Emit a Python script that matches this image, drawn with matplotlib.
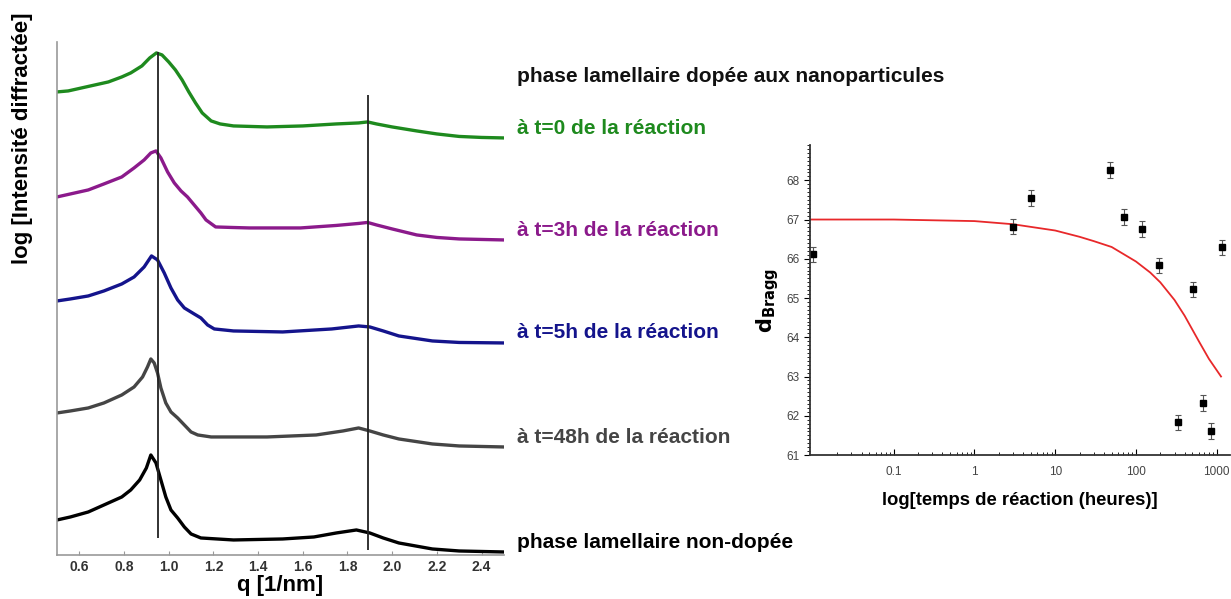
import matplotlib
matplotlib.use("Agg")
import matplotlib.pyplot as plt

plt.rcParams['font.family'] = ['Liberation Sans', 'DejaVu Sans']

# --- left panel: SAXS curves (log intensity, arbitrary offsets) ---
q_green = [0.50, 0.55, 0.61, 0.67, 0.73, 0.79, 0.83, 0.88, 0.915, 0.945, 0.97,
           1.00, 1.03, 1.06, 1.09, 1.12, 1.15, 1.19, 1.23, 1.29, 1.44, 1.60,
           1.75, 1.85, 1.89, 1.93, 2.00, 2.11, 2.20, 2.30, 2.40, 2.50]
i_green = [4.63, 4.64, 4.67, 4.70, 4.73, 4.78, 4.82, 4.89, 4.97, 5.02, 5.00,
           4.93, 4.85, 4.75, 4.63, 4.52, 4.42, 4.34, 4.31, 4.29, 4.28, 4.29,
           4.31, 4.32, 4.33, 4.31, 4.28, 4.24, 4.21, 4.185, 4.175, 4.17]

q_purple = [0.50, 0.56, 0.64, 0.71, 0.79, 0.845, 0.89, 0.92, 0.943, 0.965, 0.995,
            1.025, 1.055, 1.084, 1.114, 1.144, 1.167, 1.21, 1.28, 1.36, 1.59,
            1.75, 1.85, 1.89, 1.93, 2.00, 2.11, 2.20, 2.30, 2.50]
i_purple = [3.58, 3.61, 3.65, 3.71, 3.78, 3.87, 3.95, 4.02, 4.04, 3.97, 3.83,
            3.72, 3.64, 3.58, 3.50, 3.42, 3.35, 3.28, 3.275, 3.27, 3.27,
            3.295, 3.315, 3.325, 3.30, 3.26, 3.20, 3.175, 3.16, 3.15]

q_blue = [0.50, 0.56, 0.64, 0.71, 0.79, 0.845, 0.89, 0.923, 0.95, 0.98, 1.01,
          1.04, 1.07, 1.114, 1.144, 1.174, 1.204, 1.29, 1.51, 1.73, 1.85,
          1.90, 1.96, 2.03, 2.18, 2.30, 2.50]
i_blue = [2.54, 2.56, 2.59, 2.64, 2.71, 2.78, 2.88, 2.99, 2.95, 2.82, 2.67,
          2.55, 2.47, 2.41, 2.37, 2.30, 2.26, 2.24, 2.23, 2.26, 2.29,
          2.28, 2.24, 2.19, 2.14, 2.125, 2.12]

q_gray = [0.50, 0.56, 0.64, 0.71, 0.79, 0.845, 0.883, 0.905, 0.92, 0.935, 0.95,
          0.965, 0.987, 1.01, 1.04, 1.07, 1.10, 1.13, 1.19, 1.29, 1.44, 1.66,
          1.78, 1.85, 1.90, 1.96, 2.03, 2.18, 2.30, 2.50]
i_gray = [1.42, 1.44, 1.47, 1.52, 1.60, 1.68, 1.78, 1.88, 1.96, 1.92, 1.82,
          1.67, 1.52, 1.43, 1.37, 1.30, 1.23, 1.20, 1.18, 1.18, 1.18, 1.20,
          1.24, 1.27, 1.24, 1.20, 1.16, 1.11, 1.09, 1.08]

q_black = [0.50, 0.56, 0.64, 0.71, 0.79, 0.83, 0.87, 0.90, 0.92, 0.943, 0.965,
           0.987, 1.01, 1.04, 1.07, 1.10, 1.144, 1.29, 1.51, 1.65, 1.75, 1.84,
           1.90, 1.96, 2.03, 2.18, 2.30, 2.50]
i_black = [0.35, 0.38, 0.43, 0.50, 0.58, 0.65, 0.75, 0.87, 1.00, 0.92, 0.75,
           0.58, 0.45, 0.37, 0.28, 0.21, 0.17, 0.15, 0.16, 0.18, 0.22, 0.25,
           0.22, 0.17, 0.12, 0.06, 0.04, 0.03]

peak_q = [0.95, 1.89]
peak_lo = [0.17, 0.05]
peak_hi = [5.03, 4.60]

labels = ["à t=0 de la réaction", "à t=3h de la réaction", "à t=5h de la réaction",
          "à t=48h de la réaction", "phase lamellaire non-dopée"]
label_y = [4.26, 3.24, 2.22, 1.17, 0.12]
colors = ["#1e8a1e", "#8b1a8b", "#14148c", "#454545", "#000000"]

# --- right panel: Bragg spacing vs reaction time ---
t_hours = [0.01, 3, 5, 48, 72, 120, 192, 336, 504, 672, 840, 1176]
d_bragg = [66.11, 66.82, 67.54, 68.27, 67.07, 66.75, 65.83, 61.83, 65.22, 62.32, 61.61, 66.29]
d_err = [0.2] * len(t_hours)

fit_t = [0.0092, 0.1, 1, 3, 10, 20, 30, 50, 100, 150, 200, 300, 400, 600, 800, 1130]
fit_d = [67.00, 67.00, 66.96, 66.88, 66.72, 66.56, 66.45, 66.30, 65.93, 65.65,
         65.40, 64.95, 64.55, 63.90, 63.45, 63.00]

fig = plt.figure(figsize=(12.31, 5.99), dpi=100)

ax = fig.add_axes([0.0463, 0.0735, 0.363, 0.8565])
curves = [(q_green, i_green), (q_purple, i_purple), (q_blue, i_blue),
          (q_gray, i_gray), (q_black, i_black)]
for (q, inten), c in zip(curves, colors):
    ax.plot(q, inten, color=c, lw=2.4, solid_joinstyle='round')
ax.vlines(peak_q, peak_lo, peak_hi, color="#222222", lw=1.3)
ax.set_xlim(0.5, 2.5)
ax.set_ylim(0, 5.13)
ax.set_xticks([0.6, 0.8, 1.0, 1.2, 1.4, 1.6, 1.8, 2.0, 2.2, 2.4])
ax.set_yticks([])
ax.tick_params(axis='x', direction='in', length=3, color="#999999",
               labelsize=10, labelcolor="#333333")
for lab in ax.get_xticklabels():
    lab.set_fontweight('bold')
for s in ['top', 'right']:
    ax.spines[s].set_visible(False)
for s in ['left', 'bottom']:
    ax.spines[s].set_color("#999999")
    ax.spines[s].set_linewidth(1.2)
ax.set_xlabel("q [1/nm]", fontsize=16, fontweight='bold', labelpad=1)
ax.set_ylabel("log [Intensité diffractée]", fontsize=16, fontweight='bold')
ax.yaxis.set_label_coords(-0.054, 0.813)

ax.text(2.558, 4.78, "phase lamellaire dopée aux nanoparticules", fontsize=15,
        fontweight='bold', color="#111111", va='center', clip_on=False)
for txt, y, c in zip(labels, label_y, colors):
    ax.text(2.558, y, txt, fontsize=15, fontweight='bold', color=c,
            va='center', clip_on=False)

# right panel
ax2 = fig.add_axes([0.658, 0.2404, 0.341, 0.5176])
ax2.plot(fit_t, fit_d, color="#e8282a", lw=1.3)
ax2.errorbar(t_hours, d_bragg, yerr=d_err, fmt='s', color='black', ms=5,
             ecolor="#555555", elinewidth=0.8, capsize=2.5, capthick=0.8)
ax2.set_xscale('log')
ax2.set_xlim(0.0092, 1450)
ax2.set_ylim(61, 68.9)
ax2.set_yticks([61, 62, 63, 64, 65, 66, 67, 68])
ax2.yaxis.set_minor_locator(matplotlib.ticker.MultipleLocator(0.1))
ax2.set_xticks([0.1, 1, 10, 100, 1000])
ax2.set_xticklabels(["0.1", "1", "10", "100", "1000"])
ax2.tick_params(axis='x', which='major', direction='in', length=4, labelsize=8.5,
                labelcolor="#444444", pad=8)
ax2.tick_params(axis='x', which='minor', direction='in', length=2)
ax2.tick_params(axis='y', which='major', direction='out', length=4, labelsize=8.5,
                labelcolor="#444444")
ax2.tick_params(axis='y', which='minor', direction='out', length=2)
for s in ['top', 'right']:
    ax2.spines[s].set_visible(False)
for s in ['left', 'bottom']:
    ax2.spines[s].set_color("#333333")
    ax2.spines[s].set_linewidth(1.3)
ax2.set_xlabel("log[temps de réaction (heures)]", fontsize=13.3, fontweight='bold',
               labelpad=10)
ax2.set_ylabel(r"$\mathbf{d_{Bragg}}$", fontsize=15)

fig.savefig("out.png", dpi=100)
